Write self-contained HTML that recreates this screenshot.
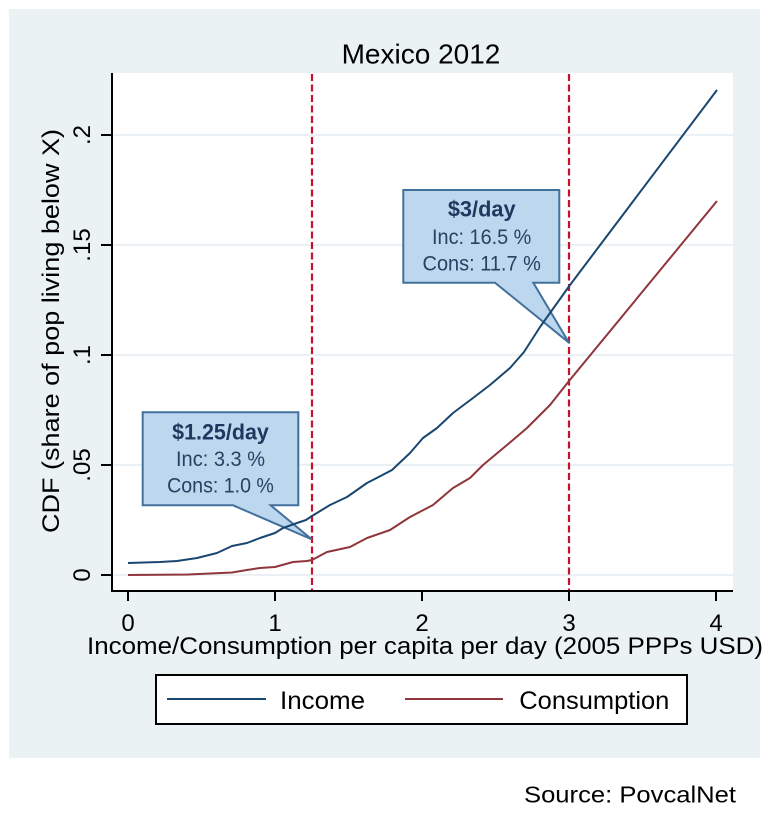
<!DOCTYPE html>
<html>
<head>
<meta charset="utf-8">
<style>
html,body{margin:0;padding:0;background:#ffffff;}
svg{display:block;}
text{font-family:"Liberation Sans",Arial,sans-serif;}
</style>
</head>
<body>
<svg width="769" height="830" viewBox="0 0 769 830" xmlns="http://www.w3.org/2000/svg">
  <!-- outer panel -->
  <rect x="0" y="0" width="769" height="830" fill="#ffffff"/>
  <rect x="9" y="9" width="751" height="749" fill="#eaf2f3"/>

  <!-- title -->
  <text x="421" y="63.3" font-size="28" text-anchor="middle" fill="#000">Mexico 2012</text>

  <!-- plot region -->
  <rect x="112" y="73" width="621" height="518" fill="#ffffff"/>

  <!-- gridlines -->
  <g stroke="#eaf0f3" stroke-width="2">
    <line x1="113" y1="135" x2="733" y2="135"/>
    <line x1="113" y1="245" x2="733" y2="245"/>
    <line x1="113" y1="355" x2="733" y2="355"/>
    <line x1="113" y1="465" x2="733" y2="465"/>
    <line x1="113" y1="575" x2="733" y2="575"/>
  </g>

  <!-- dashed reference lines -->
  <g stroke="#c8102e" stroke-width="2.2" stroke-dasharray="7,3.5">
    <line x1="312" y1="74" x2="312" y2="590"/>
    <line x1="569" y1="74" x2="569" y2="590"/>
  </g>

  <!-- callout 1 -->
  <path d="M142.7,412.3 L298.3,412.3 L298.3,505.3 L270.7,505.3 L311.7,539.3 L233,505.3 L142.7,505.3 Z" fill="#bdd7ee" stroke="#41719c" stroke-width="2" stroke-linejoin="miter"/>
  <text x="220.5" y="439.3" font-size="22.5" font-weight="bold" text-anchor="middle" fill="#1f3860" textLength="96.7" lengthAdjust="spacingAndGlyphs">$1.25/day</text>
  <text x="220.5" y="466" font-size="21.5" text-anchor="middle" fill="#2b3f63" textLength="89" lengthAdjust="spacingAndGlyphs">Inc: 3.3 %</text>
  <text x="220.5" y="492.7" font-size="21.5" text-anchor="middle" fill="#2b3f63" textLength="106.7" lengthAdjust="spacingAndGlyphs">Cons: 1.0 %</text>

  <!-- callout 2 -->
  <path d="M403.3,190 L559.3,190 L559.3,282.7 L533.3,282.7 L569,342.7 L495,282.7 L403.3,282.7 Z" fill="#bdd7ee" stroke="#41719c" stroke-width="2" stroke-linejoin="miter"/>
  <text x="481.7" y="216.3" font-size="22.5" font-weight="bold" text-anchor="middle" fill="#1f3860" textLength="67.7" lengthAdjust="spacingAndGlyphs">$3/day</text>
  <text x="481.7" y="244" font-size="21.5" text-anchor="middle" fill="#2b3f63" textLength="99.3" lengthAdjust="spacingAndGlyphs">Inc: 16.5 %</text>
  <text x="481.7" y="270.7" font-size="21.5" text-anchor="middle" fill="#2b3f63" textLength="118.3" lengthAdjust="spacingAndGlyphs">Cons: 11.7 %</text>

  <!-- series -->
  <polyline fill="none" stroke="#1a476f" stroke-width="2" stroke-linejoin="round"
    points="128,563 160,562 177,561 197,558 217,553 232,546 247,543 260,538 275,533 283,528 297,523 306,520 312,516 330,505 347,497 367,483 392,470 410,453 423,438 437,428 453,413 473,398 490,385 510,368 524,352 540,327 570,285 717,90"/>
  <polyline fill="none" stroke="#90353b" stroke-width="2" stroke-linejoin="round"
    points="128,575 188,574.5 210,573.5 232,572.5 247,570 260,568 275,567 293,562 307,561 312,560 327,552 350,547 367,538 390,530 410,517 433,505 453,488 470,478 483,465 507,445 527,428 550,405 569,381 717,201"/>

  <!-- axes -->
  <g stroke="#000" stroke-width="2">
    <line x1="112" y1="73" x2="112" y2="592"/>
    <line x1="111" y1="591" x2="733" y2="591"/>
    <!-- y ticks -->
    <line x1="101" y1="135" x2="112" y2="135"/>
    <line x1="101" y1="245" x2="112" y2="245"/>
    <line x1="101" y1="355" x2="112" y2="355"/>
    <line x1="101" y1="465" x2="112" y2="465"/>
    <line x1="101" y1="575" x2="112" y2="575"/>
    <!-- x ticks -->
    <line x1="128" y1="591" x2="128" y2="601"/>
    <line x1="275" y1="591" x2="275" y2="601"/>
    <line x1="422" y1="591" x2="422" y2="601"/>
    <line x1="569" y1="591" x2="569" y2="601"/>
    <line x1="716" y1="591" x2="716" y2="601"/>
  </g>

  <!-- y tick labels -->
  <g font-size="24" fill="#000" text-anchor="middle">
    <text transform="translate(90,135) rotate(-90)">.2</text>
    <text transform="translate(90,245) rotate(-90)">.15</text>
    <text transform="translate(90,355) rotate(-90)">.1</text>
    <text transform="translate(90,465) rotate(-90)">.05</text>
    <text transform="translate(90,575) rotate(-90)">0</text>
  </g>

  <!-- y axis title -->
  <text transform="translate(59,331) rotate(-90)" font-size="24" text-anchor="middle" fill="#000" textLength="404" lengthAdjust="spacingAndGlyphs">CDF (share of pop living below X)</text>

  <!-- x tick labels -->
  <g font-size="24" fill="#000" text-anchor="middle">
    <text x="128" y="631">0</text>
    <text x="275" y="631">1</text>
    <text x="422" y="631">2</text>
    <text x="569" y="631">3</text>
    <text x="716" y="631">4</text>
  </g>

  <!-- x axis title -->
  <text x="87" y="654" font-size="24" fill="#000" textLength="676" lengthAdjust="spacingAndGlyphs">Income/Consumption per capita per day (2005 PPPs USD)</text>

  <!-- legend -->
  <rect x="156" y="675" width="531" height="49" fill="#ffffff" stroke="#000" stroke-width="2"/>
  <line x1="167" y1="699" x2="266" y2="699" stroke="#1a476f" stroke-width="2"/>
  <text x="280" y="709" font-size="25" fill="#000" textLength="85" lengthAdjust="spacingAndGlyphs">Income</text>
  <line x1="405" y1="699" x2="503" y2="699" stroke="#90353b" stroke-width="2"/>
  <text x="519.3" y="709" font-size="25" fill="#000" textLength="150" lengthAdjust="spacingAndGlyphs">Consumption</text>

  <!-- source -->
  <text x="524" y="802.7" font-size="23" fill="#000" textLength="212" lengthAdjust="spacingAndGlyphs">Source: PovcalNet</text>
</svg>
</body>
</html>
